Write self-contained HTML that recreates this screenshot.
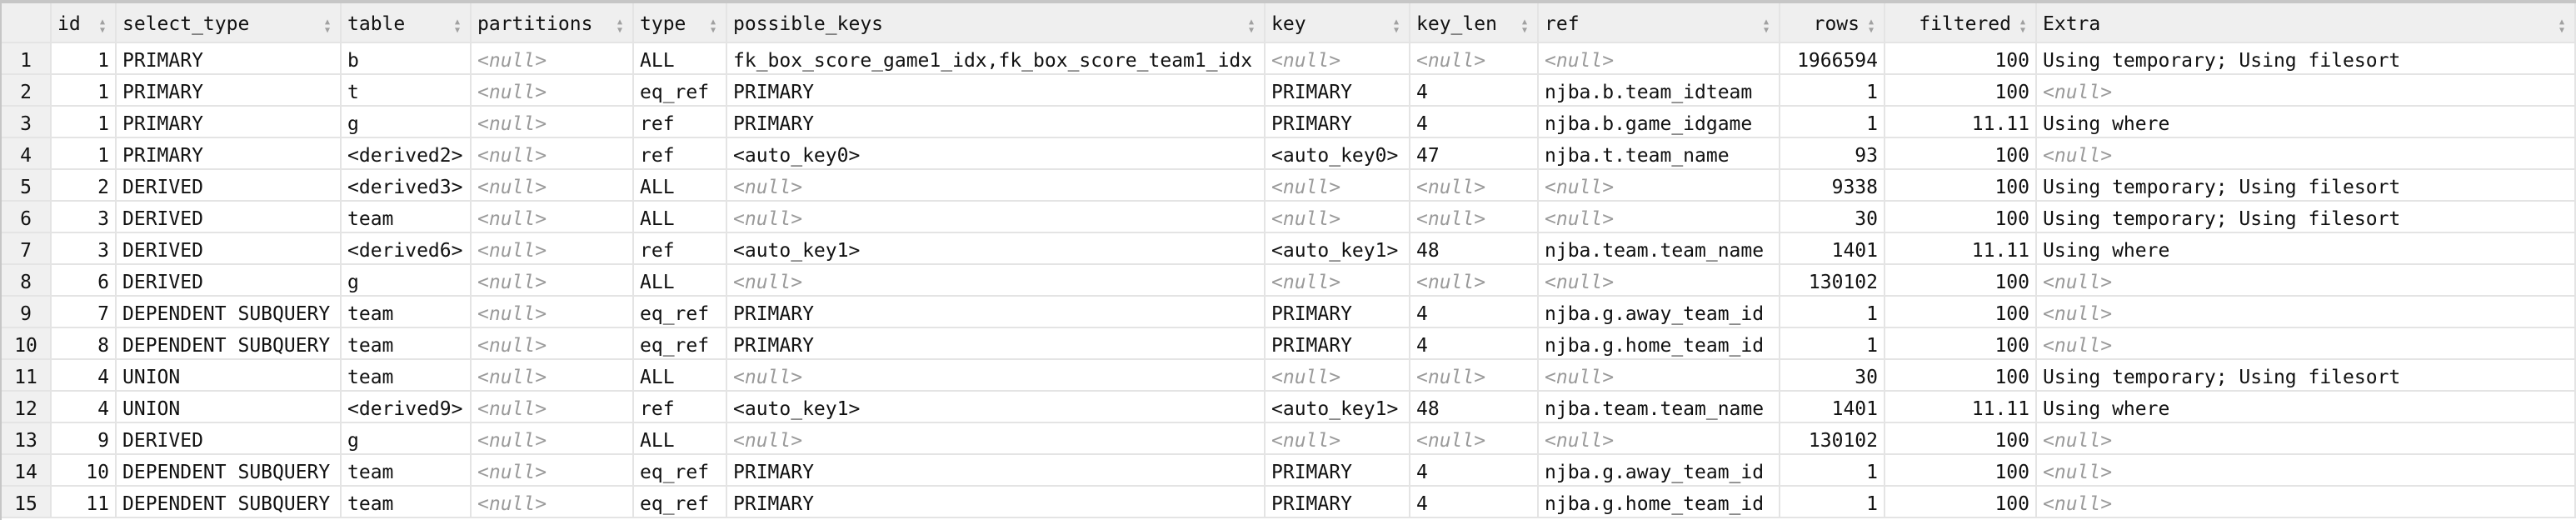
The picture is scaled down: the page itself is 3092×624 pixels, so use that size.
<!DOCTYPE html>
<html><head><meta charset="utf-8"><style>
*{margin:0;padding:0;box-sizing:border-box}
body{width:3092px;height:624px;overflow:hidden;background:#fff;font-family:"DejaVu Sans Mono","Liberation Mono",monospace;font-size:23px;color:#111;position:relative}
.top{position:absolute;left:0;top:0;width:3092px;height:4px;background:#c6c6c6}
.lb{position:absolute;left:0;top:0;width:2px;height:624px;background:#c6c6c6}
.row{position:absolute;left:2px;display:flex;height:38px}
.c{height:100%;border-right:2px solid #e4e4e4;border-bottom:2px solid #e4e4e4;padding:3px 7px 0 7px;white-space:nowrap;overflow:hidden;line-height:36px;position:relative}
.h .c{background:#efefef;line-height:46px;padding-top:2px}
.h{top:4px;height:48px}
.n{background:#f0f0f0;text-align:center;padding-left:0;padding-right:0}
.r{text-align:right}
.nl{color:#9a9a9a;font-style:italic}
.s{position:absolute;right:12px;top:18px;color:#a0a0a0;font-size:10px;line-height:1;text-align:center}
</style></head><body>
<div class="top"></div><div class="lb"></div>
<div id="t"></div>
<script>
var W=[60,78,270,156,195,112,646,174,154,290,126,182,647];
var H=["","id","select_type","table","partitions","type","possible_keys","key","key_len","ref","rows","filtered","Extra"];
var N="<null>";
var D=[
["1","PRIMARY","b",N,"ALL","fk_box_score_game1_idx,fk_box_score_team1_idx",N,N,N,"1966594","100","Using temporary; Using filesort"],
["1","PRIMARY","t",N,"eq_ref","PRIMARY","PRIMARY","4","njba.b.team_idteam","1","100",N],
["1","PRIMARY","g",N,"ref","PRIMARY","PRIMARY","4","njba.b.game_idgame","1","11.11","Using where"],
["1","PRIMARY","<derived2>",N,"ref","<auto_key0>","<auto_key0>","47","njba.t.team_name","93","100",N],
["2","DERIVED","<derived3>",N,"ALL",N,N,N,N,"9338","100","Using temporary; Using filesort"],
["3","DERIVED","team",N,"ALL",N,N,N,N,"30","100","Using temporary; Using filesort"],
["3","DERIVED","<derived6>",N,"ref","<auto_key1>","<auto_key1>","48","njba.team.team_name","1401","11.11","Using where"],
["6","DERIVED","g",N,"ALL",N,N,N,N,"130102","100",N],
["7","DEPENDENT SUBQUERY","team",N,"eq_ref","PRIMARY","PRIMARY","4","njba.g.away_team_id","1","100",N],
["8","DEPENDENT SUBQUERY","team",N,"eq_ref","PRIMARY","PRIMARY","4","njba.g.home_team_id","1","100",N],
["4","UNION","team",N,"ALL",N,N,N,N,"30","100","Using temporary; Using filesort"],
["4","UNION","<derived9>",N,"ref","<auto_key1>","<auto_key1>","48","njba.team.team_name","1401","11.11","Using where"],
["9","DERIVED","g",N,"ALL",N,N,N,N,"130102","100",N],
["10","DEPENDENT SUBQUERY","team",N,"eq_ref","PRIMARY","PRIMARY","4","njba.g.away_team_id","1","100",N],
["11","DEPENDENT SUBQUERY","team",N,"eq_ref","PRIMARY","PRIMARY","4","njba.g.home_team_id","1","100",N]];
function e(s){return s.replace(/&/g,"&amp;").replace(/</g,"&lt;").replace(/>/g,"&gt;")}
var h='<div class="row h">';
for(var i=0;i<W.length;i++){var rr=(i==10||i==11);
 h+='<div class="c'+(i==0?' n':'')+(rr?' r':'')+'" style="width:'+W[i]+'px">'+(rr?'<span style="margin-right:22px">'+H[i]+'</span>':H[i])+(i>0?'<span class="s">&#9650;<br>&#9660;</span>':'')+'</div>'}
h+='</div>';
for(var r=0;r<D.length;r++){
 h+='<div class="row" style="top:'+(52+r*38)+'px"><div class="c n" style="width:60px">'+(r+1)+'</div>';
 for(var j=0;j<12;j++){var v=D[r][j];var cl='c'+(j==0||j==9||j==10?' r':'')+(v==N?' nl':'');
  h+='<div class="'+cl+'" style="width:'+W[j+1]+'px">'+e(v)+'</div>'}
 h+='</div>'}
document.getElementById('t').innerHTML=h;
</script>
</body></html>
